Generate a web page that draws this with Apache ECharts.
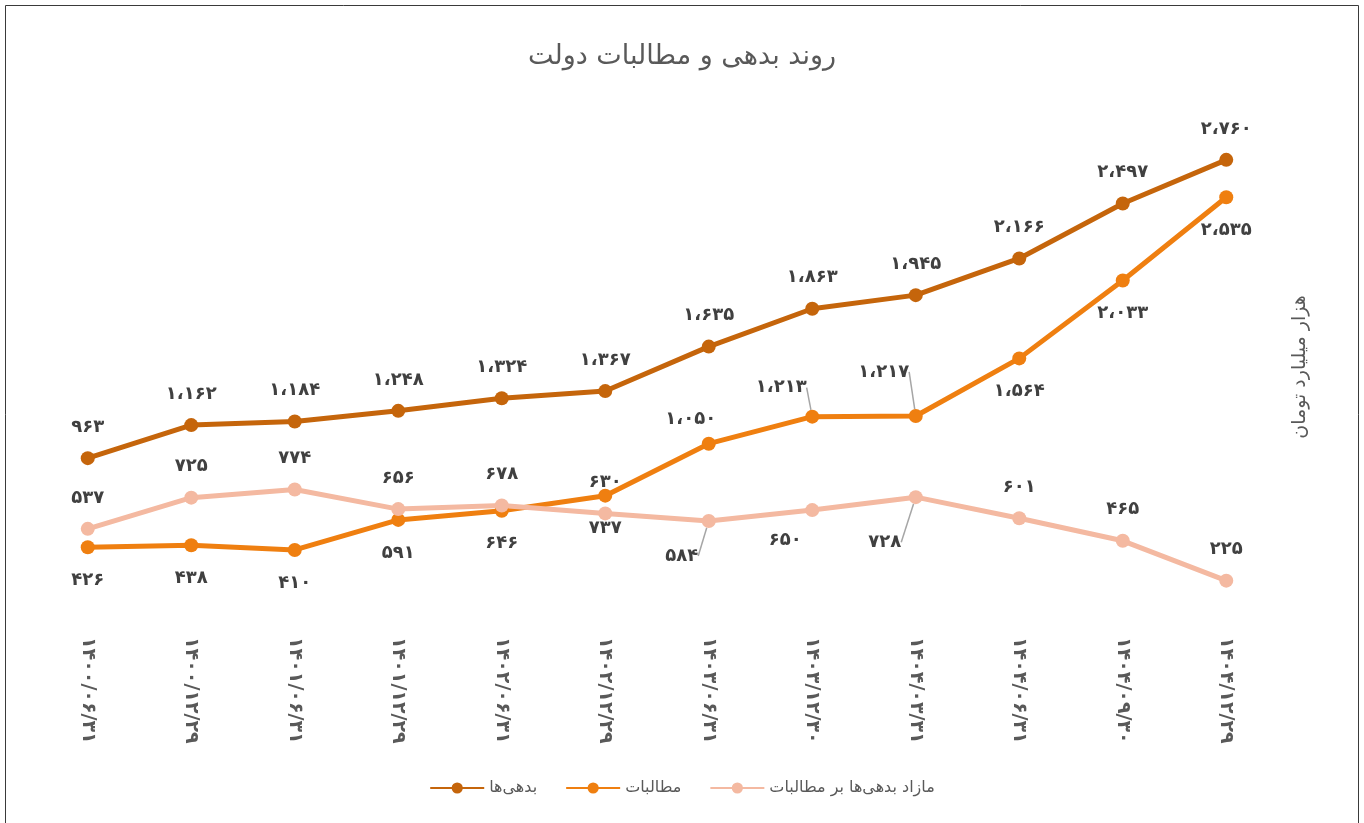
<!DOCTYPE html>
<html>
<head>
<meta charset="utf-8">
<script src="https://cdn.jsdelivr.net/npm/echarts@6/dist/echarts.min.js"></script>
<style>
  html, body { margin: 0; padding: 0; background: #fff; }
  #chart { width: 1364px; height: 823px; }
</style>
</head>
<body>
<div id="chart"></div>
<script>
const FONT = '"DejaVu Sans", sans-serif';
const TEXT = '#595959';
const VALUE_TEXT = '#404040';

const CATEGORIES = [
  '۱۴۰۰/۰۶/۳۱', '۱۴۰۰/۱۲/۲۹', '۱۴۰۱/۰۶/۳۱', '۱۴۰۱/۱۲/۲۹',
  '۱۴۰۲/۰۶/۳۱', '۱۴۰۲/۱۲/۲۹', '۱۴۰۳/۰۶/۳۱', '۱۴۰۳/۱۲/۳۰',
  '۱۴۰۴/۰۳/۳۱', '۱۴۰۴/۰۶/۳۱', '۱۴۰۴/۰۹/۳۰', '۱۴۰۴/۱۲/۲۹',
];
const DEBT    = [963, 1162, 1184, 1248, 1324, 1367, 1635, 1863, 1945, 2166, 2497, 2760];
const CLAIMS  = [426, 438, 410, 591, 646, 737, 1050, 1213, 1217, 1564, 2033, 2535];
const SURPLUS = [537, 725, 774, 656, 678, 630, 584, 650, 728, 601, 465, 225];

const NAMES = ['بدهی‌ها', 'مطالبات', 'مازاد بدهی‌ها بر مطالبات'];
const COLORS = ['#c5650b', '#ef7f10', '#f4b9a1'];

const DIST = { top: 15, bottom: 17 };

// labels that Excel moved by hand: [dx, dy, leader line?]
const CLAIM_MOVES   = { 6: [-18, 7], 7: [-31, 2, true], 8: [-32, -13, true] };
const SURPLUS_MOVES = { 6: [-27, 2, true], 7: [-27, -3], 8: [-31, 12, true] };

const FA_DIGITS = '۰۱۲۳۴۵۶۷۸۹';
function fa(n) {
  return String(n).replace(/\B(?=(\d{3})+(?!\d))/g, '،')
    .replace(/\d/g, d => FA_DIGITS[+d]);
}

function items(values, moves, flip) {
  return values.map((v, i) => {
    const m = moves[i];
    if (!m) return v;
    const it = { value: v, label: { position: flip, distance: DIST[flip] } };
    if (m[2]) it.labelLine = { show: true, lineStyle: { color: '#a6a6a6', width: 1.5 } };
    return it;
  });
}

function line(name, color, data, position, moves) {
  return {
    name, type: 'line', data,
    symbol: 'circle', symbolSize: 14,
    lineStyle: { width: 5, color },
    itemStyle: { color },
    label: {
      show: true, position, distance: DIST[position],
      color: VALUE_TEXT, fontFamily: FONT, fontWeight: 'bold', fontSize: 18,
      formatter: p => fa(p.value),
    },
    labelLayout: p => {
      const m = moves[p.dataIndex];
      return m ? { dx: m[0], dy: m[1] } : {};
    },
    emphasis: { disabled: true },
  };
}

const chart = echarts.init(document.getElementById('chart'));
chart.setOption({
  animation: false,
  title: {
    text: 'روند بدهی و مطالبات دولت',
    left: 'center', top: 38,
    textStyle: { color: TEXT, fontFamily: FONT, fontWeight: 'normal', fontSize: 27 },
  },
  legend: {
    bottom: 22, left: 'center', itemGap: 28,
    itemWidth: 54, itemHeight: 14,
    textStyle: { color: TEXT, fontFamily: FONT, fontSize: 16 },
    data: NAMES,
  },
  grid: { left: 36, right: 86, top: 120, bottom: 205 },
  xAxis: {
    type: 'category', data: CATEGORIES, boundaryGap: true,
    axisLine: { show: false }, axisTick: { show: false },
    axisLabel: {
      rotate: -90, margin: 19, interval: 0,
      color: TEXT, fontFamily: FONT, fontWeight: 'bold', fontSize: 19,
    },
  },
  yAxis: {
    type: 'value', min: 0, max: 3000, show: false,
    splitLine: { show: false },
  },
  graphic: [
    {
      type: 'rect', silent: true,
      shape: { x: 5.5, y: 5.5, width: 1353, height: 900 },
      style: { fill: 'none', stroke: '#3a3a3a', lineWidth: 1 },
    },
    {
      type: 'text', silent: true,
      x: 1300, y: 367, rotation: Math.PI / 2,
      style: {
        text: 'هزار میلیارد تومان', fill: TEXT, font: '19px ' + FONT,
        align: 'center', verticalAlign: 'middle',
      },
    },
  ],
  series: [
    line(NAMES[0], COLORS[0], DEBT, 'top', {}),
    line(NAMES[1], COLORS[1], items(CLAIMS, CLAIM_MOVES, 'top'), 'bottom', CLAIM_MOVES),
    line(NAMES[2], COLORS[2], items(SURPLUS, SURPLUS_MOVES, 'bottom'), 'top', SURPLUS_MOVES),
  ],
});
</script>
</body>
</html>
